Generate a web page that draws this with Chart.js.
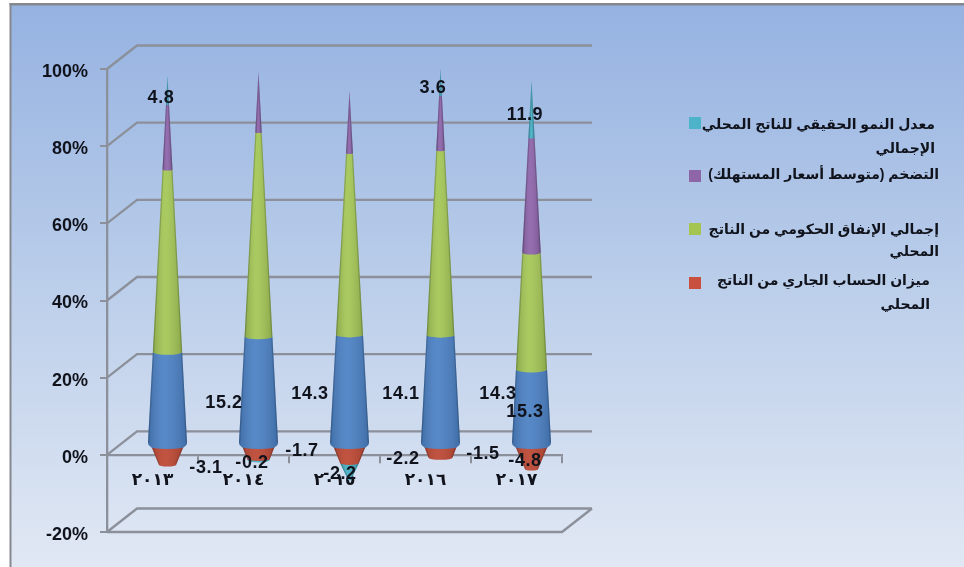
<!DOCTYPE html>
<html lang="ar">
<head>
<meta charset="utf-8">
<style>
  html, body { margin: 0; padding: 0; background: #fff; overflow: hidden; }
  #wrap { width: 964px; height: 567px; position: relative; }
</style>
<script src="https://cdn.jsdelivr.net/npm/chart.js@4/dist/chart.umd.js"></script>
</head>
<body>
<div id="wrap"><canvas id="chart" width="964" height="567"></canvas></div>
<script>
// Yearly economic indicators, percent of GDP and percent change.
const years = ['٢٠١٣', '٢٠١٤', '٢٠١٥', '٢٠١٦', '٢٠١٧'];
const currentAccount = [-3.1, -1.7, -2.2, -1.5, -4.8];
const baseSeries = [15.2, 14.3, 14.1, 14.3, 15.3];
const govSpending = [30.4, 27.4, 23.6, 24.4, 24.2];
const inflation = [10.8, 8.2, 8.1, 7.2, 23.8];
const realGrowth = [4.8, -0.2, -2.2, 3.6, 11.9];

const yTicks = { min: -20, max: 100, step: 20 };

// Legend wording, broken over the same lines it is set on.
const legendGrowth = ['معدل النمو الحقيقي للناتج المحلي', 'الإجمالي'];
const legendInflation = ['التضخم (متوسط أسعار المستهلك)'];
const legendSpending = ['إجمالي الإنفاق الحكومي من الناتج', 'المحلي'];
const legendAccount = ['ميزان الحساب الجاري من الناتج', 'المحلي'];

// Styling and placement, kept apart from the values above.
const colors = { account: '#BC4632', base: '#4A80C4', spending: '#A3C655', inflation: '#8C63A9', growth: '#45AFC4' };
const swatches = { account: '#C9503E', spending: '#A4C650', inflation: '#8E66A8', growth: '#4DB3C8' };
const inkColor = '#10131c';
const wallColor = '#8b909a';
const depth = { x: 30, y: -23.5 };
const coneRadius = 19.5;
const lowerRadius = 17.5;
const lowerDrop = 3;

const legendLayout = [
  { lines: legendGrowth, color: swatches.growth, boxY: 117, right: 935, ys: [125, 149] },
  { lines: legendInflation, color: swatches.inflation, boxY: 170, right: 939, ys: [175] },
  { lines: legendSpending, color: swatches.spending, boxY: 223, right: 939, ys: [230, 252] },
  { lines: legendAccount, color: swatches.account, boxY: 277, right: 930, ys: [281, 305] }
];

// Where each value label sits, by series and year.
const labelSpots = [
  { values: realGrowth, at: [[161, 98], [252, 463], [340, 474], [433, 88], [525, 115]] },
  { values: baseSeries, at: [[224, 403], [310, 394], [401, 394], [498, 394], [525, 412]] },
  { values: currentAccount, at: [[206, 468], [302, 451], [403, 459], [483, 454], [525, 461]] }
];

// Every stack is normalised so that the absolute shares of a year add up to 100.
const allSeries = [currentAccount, baseSeries, govSpending, inflation, realGrowth];
const yearTotals = years.map((_, i) => allSeries.reduce((sum, s) => sum + Math.abs(s[i]), 0));
const toShares = s => s.map((v, i) => v / yearTotals[i] * 100);

// Draws the stacked bars as cones on a three-dimensional frame.
const conePlugin = {
  id: 'cones',
  beforeDraw(chart) {
    const { ctx, width, height } = chart;
    ctx.save();
    ctx.fillStyle = '#fff';
    ctx.fillRect(0, 0, width, height);
    const g = ctx.createLinearGradient(0, 5, 0, height);
    g.addColorStop(0, '#95B2E1');
    g.addColorStop(0.5, '#BBCEEA');
    g.addColorStop(1, '#E1E8F4');
    ctx.fillStyle = g;
    ctx.fillRect(11, 5, width - 11, height - 5);
    ctx.fillStyle = '#85888f';
    ctx.fillRect(9.5, 3, width - 9.5, 2.5);
    ctx.fillRect(9.5, 3, 2, height - 3);
    ctx.restore();

    // Wider digit spacing on the year labels only.
    const xScale = chart.scales.x;
    if (!xScale._spaced) {
      const drawLabels = xScale.drawLabels;
      xScale.drawLabels = function (area) {
        ctx.save();
        ctx.letterSpacing = '5px';
        drawLabels.call(this, area);
        ctx.restore();
      };
      xScale._spaced = true;
    }
  },
  beforeDatasetsDraw(chart) {
    const { ctx, chartArea: a, scales: { y } } = chart;
    ctx.save();
    ctx.strokeStyle = wallColor;
    ctx.lineWidth = 2.3;
    ctx.beginPath();
    y.ticks.forEach(t => {
      const py = y.getPixelForValue(t.value);
      ctx.moveTo(a.left, py);
      ctx.lineTo(a.left + depth.x, py + depth.y);
      ctx.lineTo(a.right + depth.x, py + depth.y);
    });
    const floor = y.getPixelForValue(yTicks.min);
    ctx.moveTo(a.left, floor);
    ctx.lineTo(a.right, floor);
    ctx.lineTo(a.right + depth.x, floor + depth.y);
    ctx.stroke();
    ctx.restore();

    const zero = y.getPixelForValue(0);
    // Bars pull their base half a grid line off the zero value; undo that here.
    const snap = p => (Math.abs(p - zero) < 2 ? zero : p);

    const metas = chart.getSortedVisibleDatasetMetas();
    years.forEach((_, i) => {
      const bars = metas.map(m => ({ el: m.data[i], color: chart.data.datasets[m.index].backgroundColor, v: chart.data.datasets[m.index].data[i] }));
      const tipUp = Math.min(...bars.map(b => b.el.y));
      const tipDown = y.getPixelForValue(-Math.max(...years.map((__, k) =>
        chart.data.datasets.reduce((s, d) => s + Math.max(0, -d.data[k]), 0)))) + lowerDrop;
      const upperRadius = p => coneRadius * (p - tipUp) / (zero - tipUp);
      const downRadius = p => lowerRadius * (tipDown - p) / (tipDown - zero);
      const cx = bars[0].el.x + depth.x / 2;
      const dy = depth.y / 2;

      // Lower cone first, from its tip upward, then the upper cone from its base.
      const below = bars.filter(b => b.v < 0).reverse();
      const above = bars.filter(b => b.v >= 0);
      below.concat(above).forEach(b => {
        const isLower = b.v < 0;
        const from = snap(b.el.base), to = snap(b.el.y);
        const low = Math.max(from, to), high = Math.min(from, to);
        const sitsOnZero = !isLower && low === zero;
        const startsAtZero = isLower && high === zero;
        const radiusAt = isLower ? downRadius : upperRadius;
        const rLow = Math.max(radiusAt(low), 0);
        const rHigh = Math.max(radiusAt(high), 0);
        const yLow = low + dy + (isLower ? lowerDrop : 0);
        const yHigh = high + dy + (isLower && !startsAtZero ? lowerDrop : 0);
        const bulge = 0.2;
        ctx.save();
        ctx.beginPath();
        ctx.moveTo(cx - rHigh, yHigh);
        ctx.lineTo(cx + rHigh, yHigh);
        if (sitsOnZero) {
          // Rounded shoulder where the upper cone meets the lower one.
          const rInner = rLow - 2.5;
          ctx.lineTo(cx + rLow, yLow - 1);
          ctx.quadraticCurveTo(cx + rLow, yLow + 2.5, cx + rInner, yLow + 3.5);
          ctx.ellipse(cx, yLow + 3.5, rInner, 2.5, 0, 0, Math.PI);
          ctx.quadraticCurveTo(cx - rLow, yLow + 2.5, cx - rLow, yLow - 1);
        } else {
          ctx.lineTo(cx + rLow, yLow);
          ctx.ellipse(cx, yLow, rLow, rLow * bulge, 0, 0, Math.PI);
        }
        ctx.closePath();
        ctx.clip();
        const wide = Math.max(rLow, rHigh);
        const spanTop = yHigh - 2, spanH = yLow - yHigh + wide * bulge + 10;
        ctx.fillStyle = b.color;
        ctx.fillRect(cx - wide - 1, spanTop, wide * 2 + 2, spanH);
        const shade = ctx.createLinearGradient(cx - wide, 0, cx + wide, 0);
        shade.addColorStop(0, 'rgba(0,0,0,0.16)');
        shade.addColorStop(0.42, 'rgba(255,255,255,0.07)');
        shade.addColorStop(1, 'rgba(0,0,0,0.16)');
        ctx.fillStyle = shade;
        ctx.fillRect(cx - wide - 1, spanTop, wide * 2 + 2, spanH);
        ctx.strokeStyle = 'rgba(20,30,40,0.2)';
        ctx.lineWidth = 2.5;
        ctx.beginPath();
        ctx.moveTo(cx - rHigh, yHigh);
        ctx.lineTo(cx - rLow, yLow);
        ctx.moveTo(cx + rHigh, yHigh);
        ctx.lineTo(cx + rLow, yLow);
        ctx.stroke();
        ctx.restore();
      });
    });
    return false;
  },
  afterDraw(chart) {
    const { ctx } = chart;
    ctx.save();
    ctx.fillStyle = inkColor;
    ctx.textAlign = 'center';
    ctx.textBaseline = 'middle';
    ctx.font = 'bold 18px "Liberation Sans", Arial, sans-serif';
    ctx.letterSpacing = '0.6px';
    labelSpots.forEach(group => group.values.forEach((v, i) => {
      ctx.fillText(v.toFixed(1), group.at[i][0], group.at[i][1]);
    }));
    ctx.letterSpacing = '0px';
    legendLayout.forEach(item => {
      ctx.fillStyle = item.color;
      ctx.fillRect(689, item.boxY, 12, 12);
      ctx.fillStyle = inkColor;
      ctx.font = 'bold 14px "Liberation Sans", "DejaVu Sans", sans-serif';
      ctx.direction = 'rtl';
      ctx.textAlign = 'right';
      item.lines.forEach((line, k) => ctx.fillText(line, item.right, item.ys[k]));
    });
    ctx.restore();
  }
};

new Chart(document.getElementById('chart'), {
  type: 'bar',
  data: {
    labels: years,
    datasets: [
      { label: 'ميزان الحساب الجاري من الناتج المحلي', data: toShares(currentAccount), backgroundColor: colors.account },
      { label: 'base', data: toShares(baseSeries), backgroundColor: colors.base },
      { label: 'إجمالي الإنفاق الحكومي من الناتج المحلي', data: toShares(govSpending), backgroundColor: colors.spending },
      { label: 'التضخم (متوسط أسعار المستهلك)', data: toShares(inflation), backgroundColor: colors.inflation },
      { label: 'معدل النمو الحقيقي للناتج المحلي الإجمالي', data: toShares(realGrowth), backgroundColor: colors.growth }
    ]
  },
  options: {
    responsive: false,
    animation: false,
    layout: { padding: { left: 0, top: 69, right: 402, bottom: 35 } },
    plugins: { legend: { display: false }, title: { display: false }, tooltip: { enabled: false } },
    scales: {
      x: {
        stacked: true,
        position: { y: 0 },
        afterFit: s => { s.height = 0; },
        grid: { offset: true, drawOnChartArea: false, color: wallColor, lineWidth: 2, tickLength: 7 },
        border: { display: true, color: wallColor, width: 2.3 },
        ticks: { color: inkColor, padding: 9, maxRotation: 0, font: { family: '"DejaVu Sans", sans-serif', size: 17, weight: 'bold' } }
      },
      y: {
        stacked: true,
        min: yTicks.min,
        max: yTicks.max,
        afterFit: s => { s.width = 107; },
        grid: { drawOnChartArea: false, color: wallColor, lineWidth: 2, tickLength: 7 },
        border: { display: true, color: wallColor, width: 2.3 },
        ticks: {
          stepSize: yTicks.step,
          padding: 12,
          labelOffset: 3,
          color: inkColor,
          font: { family: '"Liberation Sans", Arial, sans-serif', size: 18, weight: 'bold' },
          callback: v => v + '%'
        }
      }
    }
  },
  plugins: [conePlugin]
});
</script>
</body>
</html>
